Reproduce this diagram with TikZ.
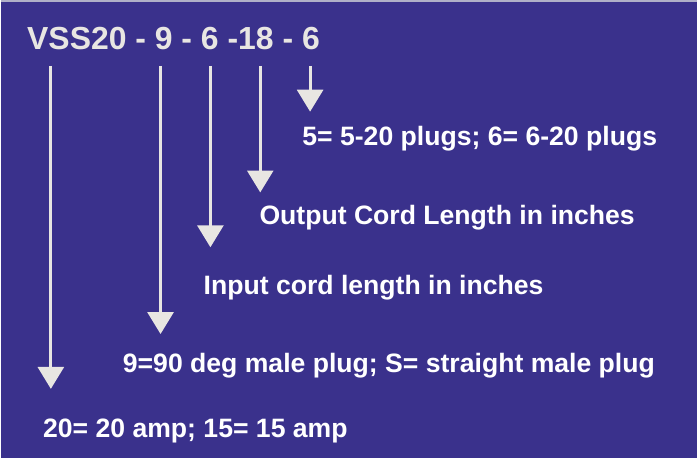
\documentclass[tikz,border=0pt]{standalone}
\usepackage{fontspec}
\setmainfont{Liberation Sans}
\usetikzlibrary{arrows.meta}
\definecolor{panelbg}{RGB}{58,49,140}
\definecolor{arrowgray}{RGB}{232,230,226}
\definecolor{edgegray}{RGB}{176,176,200}
\tikzset{
  codearrow/.style={draw=arrowgray,line width=2.25pt,-{Triangle[width=19.5pt,length=16.5pt]},arrowgray},
  codetext/.style={anchor=base west,inner sep=0pt,text=white,font=\bfseries\fontsize{20}{24}\selectfont},
}
\begin{document}
\begin{tikzpicture}[x=0.75pt,y=0.75pt,yscale=-1,xscale=1]
				%Background
				\fill [panelbg] (0,0) rectangle (698,459);
				\draw [edgegray,line width=1.5pt] (0,1) -- (698,1);
				\useasboundingbox (0,0) rectangle (698,459);

				% Text Node
				\node (code) [anchor=base west,inner sep=0pt,text=arrowgray,font=\bfseries\fontsize{24}{28}\selectfont] at (26,50) {VSS20 - 9 - 6 -18 - 6};

				% Text Node
				\node (plugs) [codetext] at (302,146) {5= 5-20 plugs; 6= 6-20 plugs};
				% Text Node
				\node (outcord) [codetext] at (259,225) {Output Cord Length in inches};
				% Text Node
				\node (incord) [codetext] at (203,295) {Input cord length in inches};
				% Text Node
				\node (male) [codetext] at (122,374) {9=90 deg male plug; S= straight male plug};
				% Text Node
				\node (amp) [codetext] at (42,439) {20= 20 amp; 15= 15 amp};

				%Arrow ends
				\coordinate (ampS) at (50,66);    \coordinate (ampE) at (50,390);
				\coordinate (maleS) at (160,66);  \coordinate (maleE) at (160,335);
				\coordinate (inS) at (210,66);    \coordinate (inE) at (210,248);
				\coordinate (outS) at (260,66);   \coordinate (outE) at (260,193);
				\coordinate (plugS) at (310,66);  \coordinate (plugE) at (310,112);

				%Arrows
				\draw [codearrow] (ampS) -- (ampE);
				\draw [codearrow] (maleS) -- (maleE);
				\draw [codearrow] (inS) -- (inE);
				\draw [codearrow] (outS) -- (outE);
				\draw [codearrow] (plugS) -- (plugE);
\end{tikzpicture}
\end{document}
